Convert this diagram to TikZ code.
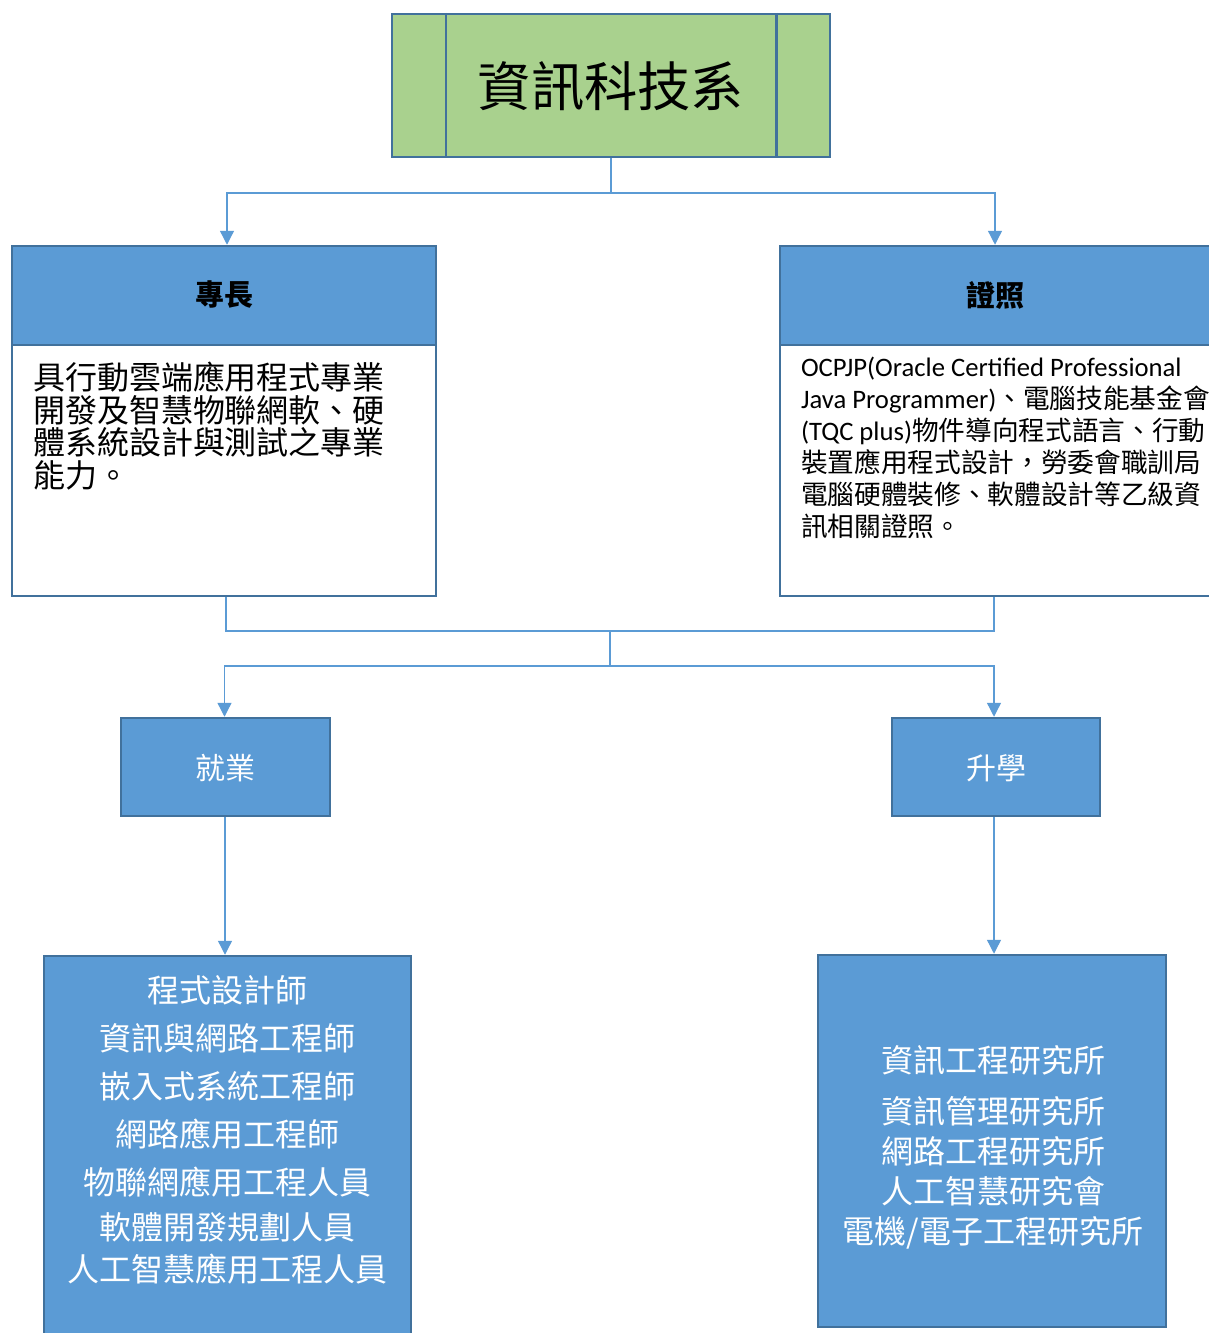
\documentclass[tikz,border=0pt]{standalone}
\usepackage{fontspec}
\setmainfont{Carlito}
\newfontfamily\cjk{Noto Sans CJK TC}
\usetikzlibrary{arrows.meta}
\definecolor{boxblue}{HTML}{5B9BD5}
\definecolor{boxgreen}{HTML}{A9D18E}
\definecolor{edgeblue}{HTML}{41719C}
\definecolor{linkblue}{HTML}{5B9BD5}
\begin{document}
\begin{tikzpicture}[x=1pt,y=-1pt,
  boxline/.style={draw=edgeblue,line width=2.5pt},
  bluebox/.style={boxline,fill=boxblue,inner sep=0pt},
  link/.style={draw=linkblue,line width=1.3pt},
  arr/.style={link,-{Triangle[width=14pt,length=14pt]}},
  txt/.style={inner sep=0pt,outer sep=0pt}
]
\useasboundingbox (0,0) rectangle (1208,1333);
\fill[white] (0,0) rectangle (1208,1333);

% top box
\node[boxline,fill=boxgreen,minimum width=438pt,minimum height=143pt,inner sep=0pt] (top) at (611,85.5) {};
\draw[boxline] ([xshift=55pt]top.north west) -- ([xshift=55pt]top.south west);
\draw[boxline] ([xshift=-55pt]top.north east) -- ([xshift=-55pt]top.south east);
\node[txt,font={\cjk\fontsize{53.3}{60}\selectfont}] (toptext) at (611,86) {資訊科技系};

% left: speciality
\node[boxline,fill=white,minimum width=424pt,minimum height=350pt,inner sep=0pt] (spec) at (224,421) {};
\node[bluebox,minimum width=424pt,minimum height=99pt] (spechead) at (224,295.5) {};
\node[txt,font={\cjk\bfseries\fontsize{29}{30}\selectfont}] (spectitle) at (224,295) {專長};
\node[txt,anchor=north west,align=left,font={\cjk\fontsize{32}{32.5}\selectfont}] (spectext) at (33,362)
  {具行動雲端應用程式專業\\開發及智慧物聯網軟、硬\\體系統設計與測試之專業\\能力。};

% right: certificate
\node[boxline,fill=white,minimum width=430pt,minimum height=350pt,inner sep=0pt] (cert) at (995,421) {};
\node[bluebox,minimum width=430pt,minimum height=99pt] (certhead) at (995,295.5) {};
\node[txt,font={\cjk\bfseries\fontsize{29}{30}\selectfont}] (certtitle) at (995,295) {證照};
\node[txt,anchor=north west,align=left,font={\fontsize{26.67}{32}\selectfont}] (certtext) at (801,357)
  {OCPJP(Oracle Certified Professional\\
   Java Programmer){\cjk 、電腦技能基金會}\\
   (TQC plus){\cjk 物件導向程式語言、行動}\\
   {\cjk 裝置應用程式設計，勞委會職訓局}\\
   {\cjk 電腦硬體裝修、軟體設計等乙級資}\\
   {\cjk 訊相關證照。}};

% employment / further study
\node[bluebox,minimum width=209pt,minimum height=98pt] (job) at (225.5,767) {};
\node[txt,text=white,font={\cjk\fontsize{30}{32}\selectfont}] (jobtitle) at (225.5,768) {就業};
\node[bluebox,minimum width=208pt,minimum height=98pt] (study) at (996,767) {};
\node[txt,text=white,font={\cjk\fontsize{30}{32}\selectfont}] (studytitle) at (996,768) {升學};

% bottom boxes
\node[bluebox,minimum width=367pt,minimum height=392pt] (jobs) at (227.5,1152) {};
\node[txt,text=white,anchor=north,align=center,font={\cjk\fontsize{32}{48}\selectfont}] (jobstext) at (227,975)
  {程式設計師\\資訊與網路工程師\\嵌入式系統工程師\\網路應用工程師\\物聯網應用工程人員\\[-3pt]軟體開發規劃人員\\[-6pt]人工智慧應用工程人員};
\node[bluebox,minimum width=348pt,minimum height=372pt] (studies) at (992,1141) {};
\node[txt,text=white,anchor=north,align=center,font={\cjk\fontsize{32}{40}\selectfont}] (studiestext) at (993,1045)
  {資訊工程研究所\\[11pt]資訊管理研究所\\網路工程研究所\\人工智慧研究會\\電機/電子工程研究所};

% connectors
\draw[link] (top.south) -- (611,193) coordinate (j1);
\draw[arr] (j1) -| ([xshift=3pt]spechead.north);
\draw[arr] (j1) -| (certhead.north);
\coordinate (j2) at (610,631);
\coordinate (j3) at (610,666);
\draw[link] ([xshift=2pt]spec.south) |- (j2) -| ([xshift=-1pt]cert.south);
\draw[link] (j2) -- (j3);
\draw[arr] (j3) -| ([xshift=-1pt]job.north);
\draw[arr] (j3) -| ([xshift=-2pt]study.north);
\draw[arr] ([xshift=-0.5pt]job.south) -- ([xshift=-0.5pt]job.south |- jobs.north);
\draw[arr] ([xshift=-2pt]study.south) -- ([xshift=-2pt]study.south |- studies.north);
\end{tikzpicture}
\end{document}
